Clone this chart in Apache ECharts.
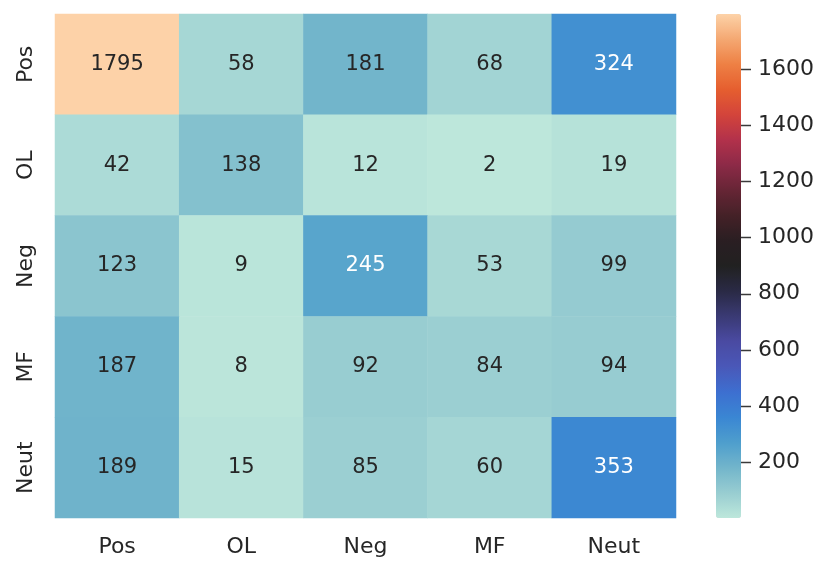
<!DOCTYPE html>
<html>
<head>
<meta charset="utf-8">
<script src="https://cdn.jsdelivr.net/npm/echarts@6/dist/echarts.min.js"></script>
<style>html,body{margin:0;padding:0;background:#fff}#c{width:831px;height:574px}</style>
</head>
<body>
<div id="c"></div>
<script>
const xCategories = ['Pos', 'OL', 'Neg', 'MF', 'Neut'];
const yCategories = ['Pos', 'OL', 'Neg', 'MF', 'Neut'];
const rowPos  = [1795, 58, 181, 68, 324];
const rowOL   = [42, 138, 12, 2, 19];
const rowNeg  = [123, 9, 245, 53, 99];
const rowMF   = [187, 8, 92, 84, 94];
const rowNeut = [189, 15, 85, 60, 353];
const colorbarTicks = [200, 400, 600, 800, 1000, 1200, 1400, 1600];

const rows = [rowPos, rowOL, rowNeg, rowMF, rowNeut];
const data = [];
rows.forEach((r, yi) => r.forEach((v, xi) => data.push([xi, yi, v])));
const vmin = 2, vmax = 1795;

const icefire = ['#bde7db','#98cdd1','#72b5cb','#4e9ecd','#3a86d3','#3d6fd0','#4a58b8','#4a4aa2','#3a3a74','#2a2a45','#212121','#2a1e22','#442127','#662535','#8c2a47','#b2314b','#d3443b','#e55e2f','#ee8044','#f4a872','#fdd2a8'];

const font = 'DejaVu Sans';
const cbLeft = 716, cbWidth = 25;
const chart = echarts.init(document.getElementById('c'));
chart.setOption({
  animation: false,
  grid: [
    {left: 55, right: 155, top: 14, bottom: 56},
    {left: cbLeft, width: cbWidth, top: 14, bottom: 56}
  ],
  xAxis: [
    {type: 'category', data: xCategories, gridIndex: 0,
     axisLine: {show: false}, axisTick: {show: false}, splitLine: {show: false},
     axisLabel: {fontFamily: font, fontSize: 22, color: '#262626', margin: 18}},
    {type: 'value', gridIndex: 1, show: false, min: 0, max: 1}
  ],
  yAxis: [
    {type: 'category', data: yCategories, gridIndex: 0, inverse: true,
     axisLine: {show: false}, axisTick: {show: false}, splitLine: {show: false},
     axisLabel: {fontFamily: font, fontSize: 22, color: '#262626', rotate: 90, margin: 18}},
    {type: 'value', gridIndex: 1, position: 'right', min: vmin, max: vmax,
     axisLine: {show: false}, splitLine: {show: false},
     axisTick: {show: false},
     axisLabel: {fontFamily: font, fontSize: 22, color: '#262626', margin: 17, customValues: colorbarTicks,
                 formatter: v => String(v)}}
  ],
  visualMap: {
    type: 'continuous', min: vmin, max: vmax, show: true, calculable: false,
    left: cbLeft, top: 14, itemWidth: cbWidth, itemHeight: 504, padding: 0,
    text: null, showLabel: false, seriesIndex: 0, z: 1,
    inRange: {color: icefire}
  },
  series: [{
    type: 'heatmap', xAxisIndex: 0, yAxisIndex: 0, data: data,
    itemStyle: {borderWidth: 0},
    label: {
      show: true, fontFamily: font, fontSize: 21,
      formatter: p => {
        const v = p.value[2];
        return (v > 220 && v < 1500) ? '{w|' + v + '}' : '{d|' + v + '}';
      },
      rich: {w: {color: '#ffffff', fontFamily: font, fontSize: 21}, d: {color: '#262626', fontFamily: font, fontSize: 21}}
    },
    emphasis: {disabled: true}
  }]
});

// colorbar tick marks placed through the colorbar axis scale
const x0 = cbLeft + cbWidth;
chart.setOption({
  graphic: colorbarTicks.map(v => {
    const y = Math.round(chart.convertToPixel({yAxisIndex: 1}, v)) + 0.5;
    return {type: 'line', shape: {x1: x0, y1: y, x2: x0 + 10, y2: y},
            style: {stroke: '#3a3a3a', lineWidth: 1.5}, silent: true};
  })
});
</script>
</body>
</html>
